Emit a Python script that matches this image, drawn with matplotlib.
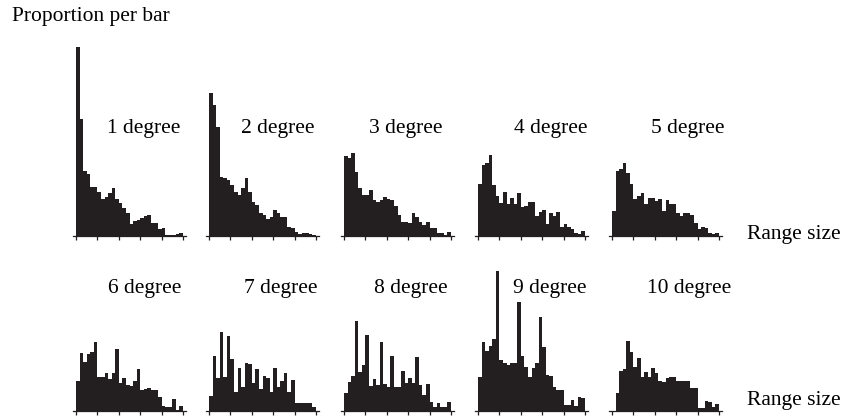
import matplotlib
matplotlib.use("Agg")
import matplotlib.pyplot as plt
import numpy as np

# bar heights (same arbitrary scale for all panels)
deg1 = [189, 117, 65, 62, 49, 49, 44, 37, 39, 43, 48, 37, 33, 28, 23,
        12, 15, 16, 18, 20, 21, 13, 13, 7, 8, 1, 1, 1, 2, 3]
deg2 = [143, 131, 109, 59, 58, 56, 51, 44, 41, 48, 58, 44, 34, 31, 23,
        21, 17, 19, 26, 23, 19, 19, 9, 8, 4, 2, 3, 3, 2, 1]
deg3 = [80, 78, 83, 64, 48, 41, 41, 46, 36, 34, 36, 39, 37, 36, 30,
        21, 14, 14, 13, 23, 19, 14, 11, 14, 8, 8, 3, 3, 1, 4]
deg4 = [52, 71, 73, 81, 51, 40, 33, 44, 32, 38, 32, 43, 29, 30, 34,
        34, 20, 24, 26, 12, 23, 20, 24, 9, 12, 9, 7, 3, 2, 5]
deg5 = [25, 65, 67, 73, 63, 52, 37, 40, 43, 32, 38, 38, 35, 37, 25,
        36, 32, 32, 23, 20, 23, 23, 21, 13, 7, 9, 8, 3, 2, 3]
deg6 = [30, 58, 49, 57, 59, 69, 34, 34, 38, 32, 38, 62, 28, 33, 26,
        25, 30, 42, 21, 22, 23, 21, 21, 14, 5, 4, 4, 12, 1, 5]
deg7 = [15, 55, 33, 79, 34, 75, 52, 19, 43, 24, 48, 47, 28, 42, 22,
        35, 33, 19, 43, 24, 30, 38, 19, 31, 8, 8, 8, 8, 8, 4]
deg8 = [18, 29, 35, 90, 39, 46, 76, 25, 32, 26, 69, 27, 24, 55, 24,
        24, 40, 28, 33, 28, 54, 26, 16, 27, 9, 4, 8, 4, 4, 9]
deg9 = [34, 69, 60, 65, 72, 140, 51, 48, 46, 48, 48, 109, 55, 44, 34,
        43, 48, 94, 64, 36, 35, 24, 21, 21, 6, 6, 11, 5, 14, 13]
deg10 = [0, 18, 40, 42, 70, 59, 44, 53, 34, 39, 34, 43, 38, 30, 29,
         33, 34, 34, 30, 30, 30, 30, 23, 23, 3, 3, 10, 9, 4, 7]

panels = [deg1, deg2, deg3, deg4, deg5, deg6, deg7, deg8, deg9, deg10]
labels = ["1 degree", "2 degree", "3 degree", "4 degree", "5 degree",
          "6 degree", "7 degree", "8 degree", "9 degree", "10 degree"]
tick_pos = [0, 6, 12, 18, 24, 30]
x_title = "Range size"
y_title = "Proportion per bar"

plt.rcParams["font.family"] = ["Liberation Serif", "DejaVu Serif"]
FS = 15.5
bar_color = "#231f20"

W, H = 856, 418
fig = plt.figure(figsize=(W / 100, H / 100), dpi=100)

# layout in pixels of the reference
n_bins = len(deg1)
col_x = [76, 209, 344, 478, 612]
row_base = [236, 411]
row_top = [190, 145]
span = 107
pad = 0.9
lab_x = [[107, 241, 369, 514, 651], [108, 244, 374, 513, 647]]
lab_y = [128, 289]


def px_box(x0, base, ytop):
    left = x0 - pad * span / n_bins
    width = (n_bins + 2 * pad) * span / n_bins
    return [left / W, (H - base) / H, width / W, ytop / H]


for i, vals in enumerate(panels):
    r, c = divmod(i, 5)
    ax = fig.add_axes(px_box(col_x[c], row_base[r], row_top[r]))
    ax.patch.set_alpha(0)
    ax.bar(np.arange(n_bins), vals, width=1, align="edge",
           color=bar_color, linewidth=0)
    ax.set_xlim(-pad, n_bins + pad)
    ax.set_ylim(0, row_top[r])
    for s in ["top", "right", "left"]:
        ax.spines[s].set_visible(False)
    ax.spines["bottom"].set_linewidth(0.9)
    ax.spines["bottom"].set_color(bar_color)
    ax.set_xticks(tick_pos)
    ax.set_xticklabels([])
    ax.set_yticks([])
    ax.tick_params(axis="x", direction="out", length=3.2, width=0.9,
                   color=bar_color)
    fig.text(lab_x[r][c] / W, 1 - lab_y[r] / H, labels[i],
             fontsize=FS, ha="left", va="center", color="black")

fig.text(12 / W, 1 - 17 / H, y_title, fontsize=FS, ha="left", va="center")
fig.text(747 / W, 1 - 234 / H, x_title, fontsize=FS, ha="left", va="center")
fig.text(747 / W, 1 - 400 / H, x_title, fontsize=FS, ha="left", va="center")

fig.savefig("out.png", dpi=100)
